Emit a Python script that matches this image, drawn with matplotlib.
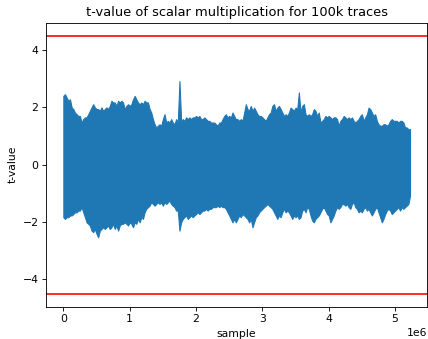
import numpy as np
import matplotlib
matplotlib.use("Agg")
import matplotlib.pyplot as plt

# envelope of the t-value trace, read every 25k samples from 0 to 5.225e6
sample_step = 25000

t_upper = [
    2.40, 2.46, 2.34, 2.23, 2.28, 2.00, 1.94, 1.82, 1.76, 1.70,
    1.70, 1.47, 1.59, 1.65, 1.65, 1.76, 1.88, 2.00, 2.11, 2.00,
    1.94, 1.94, 1.88, 2.00, 1.88, 1.94, 2.00, 1.94, 2.05, 2.23,
    2.17, 2.17, 2.05, 2.23, 2.17, 2.23, 2.17, 1.94, 2.05, 2.11,
    2.05, 2.11, 2.28, 2.40, 2.28, 2.17, 2.11, 2.17, 2.11, 2.23,
    2.17, 2.17, 1.94, 1.82, 1.59, 1.41, 1.30, 1.36, 1.41, 1.36,
    1.59, 1.76, 1.47, 1.53, 1.47, 1.59, 1.47, 1.41, 1.59, 1.47,
    2.92, 1.53, 1.59, 1.53, 1.65, 1.59, 1.65, 1.59, 1.65, 1.65,
    1.70, 1.65, 1.70, 1.59, 1.59, 1.65, 1.59, 1.53, 1.53, 1.47,
    1.47, 1.47, 1.41, 1.36, 1.47, 1.47, 1.59, 1.70, 1.76, 1.65,
    1.70, 1.65, 1.82, 1.70, 1.59, 1.59, 1.53, 1.59, 1.53, 1.82,
    2.11, 1.94, 1.88, 2.05, 1.88, 1.99, 1.88, 1.76, 1.70, 1.70,
    1.65, 1.59, 1.53, 1.65, 1.76, 1.82, 2.05, 2.11, 1.88, 1.99,
    2.05, 1.94, 1.82, 1.70, 1.76, 1.70, 1.82, 1.99, 1.94, 1.88,
    1.99, 1.94, 2.52, 1.82, 2.05, 2.11, 1.76, 1.70, 1.76, 1.70,
    1.76, 1.94, 1.88, 1.70, 1.82, 1.47, 1.53, 1.59, 1.70, 1.65,
    1.70, 1.65, 1.59, 1.65, 1.65, 1.59, 1.36, 1.53, 1.59, 1.70,
    1.65, 1.59, 1.65, 1.59, 1.65, 1.53, 1.47, 1.53, 1.59, 1.70,
    1.76, 1.53, 1.65, 1.76, 1.99, 1.94, 1.82, 1.70, 1.76, 1.53,
    1.41, 1.36, 1.36, 1.41, 1.41, 1.36, 1.41, 1.53, 1.59, 1.53,
    1.53, 1.53, 1.47, 1.53, 1.53, 1.47, 1.30, 1.30, 1.24, 1.24,
]

t_lower = [
    -1.83, -1.89, -1.83, -1.83, -1.77, -1.77, -1.72, -1.66, -1.66, -1.60,
    -1.60, -1.48, -1.66, -1.83, -2.01, -2.06, -2.12, -2.30, -2.35, -2.24,
    -2.41, -2.53, -2.30, -2.24, -2.18, -2.24, -2.18, -2.12, -2.24, -2.18,
    -2.06, -2.24, -2.12, -2.30, -2.12, -2.06, -2.06, -2.01, -2.06, -2.12,
    -2.01, -2.06, -2.18, -2.01, -2.06, -1.89, -2.01, -1.83, -1.89, -1.66,
    -1.54, -1.48, -1.43, -1.31, -1.37, -1.43, -1.37, -1.31, -1.37, -1.31,
    -1.43, -1.31, -1.37, -1.31, -1.25, -1.37, -1.43, -1.48, -1.60, -1.60,
    -2.30, -2.01, -1.89, -1.83, -1.77, -1.89, -1.83, -1.77, -1.83, -1.77,
    -1.72, -1.66, -1.72, -1.66, -1.60, -1.60, -1.54, -1.60, -1.54, -1.54,
    -1.48, -1.48, -1.48, -1.43, -1.48, -1.43, -1.48, -1.48, -1.54, -1.66,
    -1.77, -1.89, -2.01, -1.89, -2.01, -1.89, -1.77, -1.83, -1.72, -1.77,
    -1.83, -1.89, -2.01, -1.89, -2.18, -2.01, -1.83, -1.77, -1.66, -1.60,
    -1.54, -1.48, -1.43, -1.37, -1.43, -1.48, -1.54, -1.66, -1.77, -1.89,
    -1.77, -1.83, -1.66, -1.54, -1.66, -1.60, -1.66, -1.77, -1.89, -1.77,
    -1.83, -1.77, -1.89, -1.83, -1.60, -1.54, -1.66, -1.48, -1.54, -1.77,
    -1.95, -2.01, -1.89, -1.83, -1.77, -1.66, -1.54, -1.48, -1.60, -1.72,
    -1.77, -2.01, -1.89, -1.77, -1.60, -1.48, -1.54, -1.48, -1.37, -1.37,
    -1.43, -1.37, -1.48, -1.54, -1.37, -1.31, -1.48, -1.54, -1.66, -1.60,
    -1.66, -1.54, -1.48, -1.60, -1.54, -1.66, -1.77, -1.66, -1.54, -1.48,
    -1.66, -1.83, -2.01, -1.89, -1.72, -1.60, -1.54, -1.60, -1.72, -1.66,
    -1.60, -1.54, -1.48, -1.60, -1.48, -1.54, -1.48, -1.43, -1.37, -1.08,
]
threshold = 4.5

x = np.arange(len(t_upper)) * sample_step

DPI = 78
fig = plt.figure(figsize=(428 / DPI, 339 / DPI), dpi=DPI)
ax = fig.add_axes([0.1075, 0.0953, 0.891, 0.8377])
ax.fill_between(x, t_lower, t_upper, color="#1f77b4", edgecolor="#1f77b4", linewidth=1.0)
ax.axhline(threshold, color="red")
ax.axhline(-threshold, color="red")
ax.set_title("t-value of scalar multiplication for 100k traces")
ax.set_xlabel("sample")
ax.set_ylabel("t-value")
ax.set_yticks([-4, -2, 0, 2, 4])
fig.savefig("out.png", dpi=DPI)
